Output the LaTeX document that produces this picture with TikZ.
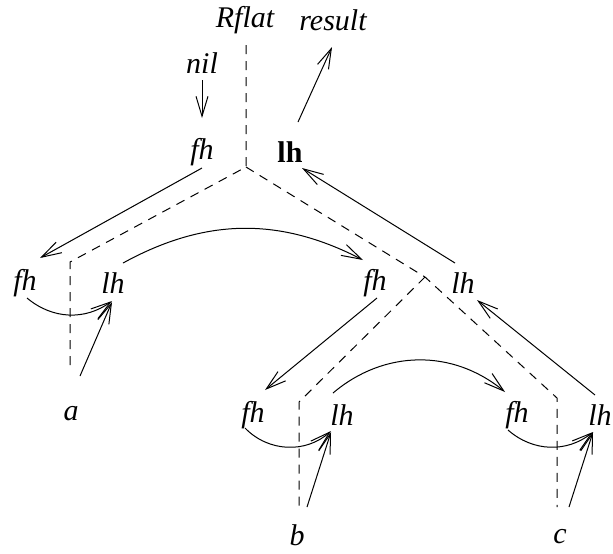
\documentclass[tikz,border=0pt]{standalone}
\usepackage{fontspec}
\setmainfont{Liberation Serif}
\usepackage{tikz}
\usetikzlibrary{arrows.meta}

\tikzset{
  lbl/.style={inner sep=0pt, font=\fontsize{15}{17}\selectfont\itshape},
  arr/.style={line width=0.5pt, -{Straight Barb[length=10pt,width=6pt]}},
  tree/.style={line width=0.5pt, dash pattern=on 4.5pt off 3.5pt}
}

\begin{document}
\begin{tikzpicture}[x=0.5pt,y=0.5pt]
\useasboundingbox (0,0) rectangle (613,-553);
\node[lbl] (rflat) at (245,-20) {Rflat};
\node[lbl] (result) at (333,-20) {result};
\node[lbl] (nil) at (202,-63) {nil};
\node[lbl] (fhA) at (202,-152) {fh};
\node[lbl, font=\fontsize{15}{17}\selectfont\bfseries] (lhA) at (290,-152) {lh};
\node[lbl] (fhL) at (25,-283) {fh};
\node[lbl] (lhL) at (113,-283) {lh};
\node[lbl] (fhM) at (375,-283) {fh};
\node[lbl] (lhM) at (463,-283) {lh};
\node[lbl] (fhB) at (253,-415) {fh};
\node[lbl] (lhB) at (342,-415) {lh};
\node[lbl] (fhC) at (517,-415) {fh};
\node[lbl] (lhC) at (600,-415) {lh};
\node[lbl] (a) at (71,-414) {a};
\node[lbl] (b) at (297,-535) {b};
\node[lbl] (c) at (560,-537) {c};

% dashed tree
\coordinate (top) at (246,-45);
\coordinate (j0) at (246,-167);
\coordinate (cL) at (70,-262);
\coordinate (eL) at (70,-367);
\coordinate (j1) at (425,-277);
\coordinate (cB) at (299,-402);
\coordinate (eB) at (299,-507);
\coordinate (cC) at (557,-398);
\coordinate (eC) at (557,-507);
\draw[tree] (top) -- (j0) -- (cL) -- (eL);
\draw[tree] (j0) -- (j1) -- (cC) -- (eC);
\draw[tree] (j1) -- (cB) -- (eB);

% arrows
\draw[arr] ([shift={(0,-17)}]nil.center) -- ([shift={(0,34)}]fhA.center);
\draw[arr] ([shift={(8,30)}]lhA.center) -- ([shift={(-1,-27)}]result.center);
\draw[arr] ([shift={(0,-16)}]fhA.center) -- ([shift={(15,25)}]fhL.center);
\draw[arr] ([shift={(-8,20)}]lhM.center) -- ([shift={(12,-16)}]lhA.center);
\draw[arr] ([shift={(10,20)}]lhL.center) to[bend left=28] ([shift={(-12,23)}]fhM.center);
\draw[arr] ([shift={(2,-15)}]fhL.center) to[bend right=38] ([shift={(-1,-18)}]lhL.center);
\draw[arr] ([shift={(9,38)}]a.center) -- ([shift={(-1,-19)}]lhL.center);
\draw[arr] ([shift={(2,-15)}]fhM.center) -- ([shift={(12,25)}]fhB.center);
\draw[arr] ([shift={(-5,20)}]lhC.center) -- ([shift={(14,-17)}]lhM.center);
\draw[arr] ([shift={(-9,22)}]lhB.center) to[bend left=40] ([shift={(-12,23)}]fhC.center);
\draw[arr] ([shift={(-8,-13)}]fhB.center) to[bend right=44] ([shift={(-11,-16)}]lhB.center);
\draw[arr] ([shift={(10,28)}]b.center) -- ([shift={(-11,-17)}]lhB.center);
\draw[arr] ([shift={(-9,-15)}]fhC.center) to[bend right=40] ([shift={(-7,-17)}]lhC.center);
\draw[arr] ([shift={(9,30)}]c.center) -- ([shift={(-7,-17)}]lhC.center);
\end{tikzpicture}
\end{document}
